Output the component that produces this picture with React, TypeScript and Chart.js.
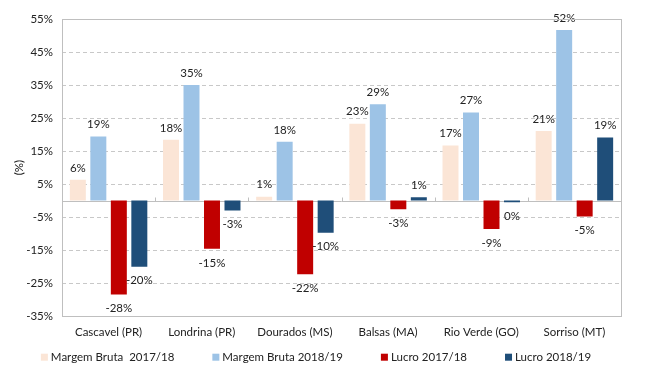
import React, { useEffect, useRef } from "react";
import { Chart, registerables } from "chart.js";

Chart.register(...registerables);

const categories = ["Cascavel (PR)", "Londrina (PR)", "Dourados (MS)", "Balsas (MA)", "Rio Verde (GO)", "Sorriso (MT)"];
const margemBruta1718 = [6.3, 18.4, 1.2, 23.3, 16.7, 21.1];
const margemBruta1819 = [19.4, 35.0, 17.8, 29.2, 26.7, 51.7];
const lucro1718 = [-28.4, -14.6, -22.3, -2.6, -8.6, -4.8];
const lucro1819 = [-20.0, -3.0, -9.7, 1.0, -0.5, 19.1];
const seriesLabels = ["Margem Bruta  2017/18", "Margem Bruta 2018/19", "Lucro 2017/18", "Lucro 2018/19"];
const seriesColors = ["#FBE5D6", "#9DC3E6", "#C00000", "#1F4E79"];
const yMin = -35;
const yMax = 55;
const yStep = 10;

const FONT = "Lato";
const TEXT = "#222222";

const overlayPlugin = {
  id: "overlay",
  beforeDatasetsDraw(chart: any) {
    const { ctx, chartArea, scales } = chart;
    const y0 = Math.round(scales.y.getPixelForValue(0)) + 0.5;
    ctx.save();
    ctx.strokeStyle = "#bfbfbf";
    ctx.lineWidth = 1;
    ctx.setLineDash([]);
    ctx.beginPath();
    ctx.moveTo(chartArea.left, y0);
    ctx.lineTo(chartArea.right, y0);
    const n = categories.length;
    for (let i = 0; i < n - 1; i++) {
      const x = Math.round((scales.x.getPixelForValue(i) + scales.x.getPixelForValue(i + 1)) / 2) + 0.5;
      ctx.moveTo(x, y0 - 4);
      ctx.lineTo(x, y0);
    }
    ctx.stroke();
    ctx.restore();
  },
  afterDatasetsDraw(chart: any) {
    const { ctx, chartArea } = chart;
    ctx.save();
    ctx.font = `11.5px ${FONT}`;
    ctx.fillStyle = TEXT;
    ctx.textAlign = "center";
    ctx.textBaseline = "middle";
    chart.data.datasets.forEach((ds: any, di: number) => {
      const meta = chart.getDatasetMeta(di);
      meta.data.forEach((el: any, i: number) => {
        const v = ds.data[i];
        const txt = `${Math.round(v)}%`;
        const y = v >= 0 ? el.y - 12 : el.y + 14;
        ctx.fillText(txt, el.x, y);
      });
    });
    // plot border
    ctx.strokeStyle = "#bfbfbf";
    ctx.lineWidth = 1;
    ctx.strokeRect(Math.round(chartArea.left) + 0.5, Math.round(chartArea.top) + 0.5,
      Math.round(chartArea.right - chartArea.left), Math.round(chartArea.bottom - chartArea.top));
    // legend
    ctx.font = `11.5px ${FONT}`;
    ctx.textAlign = "left";
    const box = 7;
    const gapBox = 3;
    const gapItem = 38;
    const widths = seriesLabels.map((l) => box + gapBox + ctx.measureText(l).width);
    const total = widths.reduce((a, b) => a + b, 0) + gapItem * (widths.length - 1);
    let x = chart.width / 2 - 8 - total / 2;
    const ly = chartArea.bottom + 41;
    seriesLabels.forEach((l, i) => {
      ctx.fillStyle = seriesColors[i];
      ctx.fillRect(x, ly - box / 2, box, box);
      ctx.fillStyle = TEXT;
      ctx.fillText(l, x + box + gapBox, ly + 0.5);
      x += widths[i] + gapItem;
    });
    ctx.restore();
  },
};

export default function App() {
  const ref = useRef<HTMLCanvasElement | null>(null);
  useEffect(() => {
    if (!ref.current) return;
    const datasets = [margemBruta1718, margemBruta1819, lucro1718, lucro1819].map((d, i) => ({
      label: seriesLabels[i],
      data: d,
      backgroundColor: seriesColors[i],
      borderWidth: 0,
      categoryPercentage: 0.88,
      barPercentage: 0.78,
    }));
    const chart = new Chart(ref.current, {
      type: "bar",
      data: { labels: categories, datasets },
      options: {
        animation: false,
        responsive: true,
        maintainAspectRatio: false,
        layout: { padding: { left: 8, right: 27, top: 19, bottom: 24 } },
        plugins: { legend: { display: false }, tooltip: { enabled: false } },
        scales: {
          x: {
            grid: { display: false, drawTicks: false },
            border: { display: false },
            ticks: { font: { family: FONT, size: 11.5 }, color: TEXT, padding: 9, maxRotation: 0 },
          },
          y: {
            min: yMin,
            max: yMax,
            afterFit: (s: any) => { s.width = 54; },
            ticks: {
              stepSize: yStep,
              font: { family: FONT, size: 11.5 },
              color: TEXT,
              padding: 9,
              callback: (v: any) => `${v}%`,
            },
            grid: {
              drawTicks: false,
              color: (c: any) => (c.tick && (c.tick.value === yMin || c.tick.value === yMax) ? "rgba(0,0,0,0)" : "#c8c8c8"),
            },
            border: { display: false, dash: [4, 3] },
            title: { display: true, text: "(%)", font: { family: FONT, size: 11.5 }, color: TEXT, padding: { top: 4, bottom: 4 } },
          },
        },
      },
      plugins: [overlayPlugin],
    });
    return () => chart.destroy();
  }, []);
  return (
    <div style={{ position: "fixed", left: 0, top: 0, width: 648, height: 372, background: "#fff" }}>
      <canvas ref={ref} />
    </div>
  );
}
